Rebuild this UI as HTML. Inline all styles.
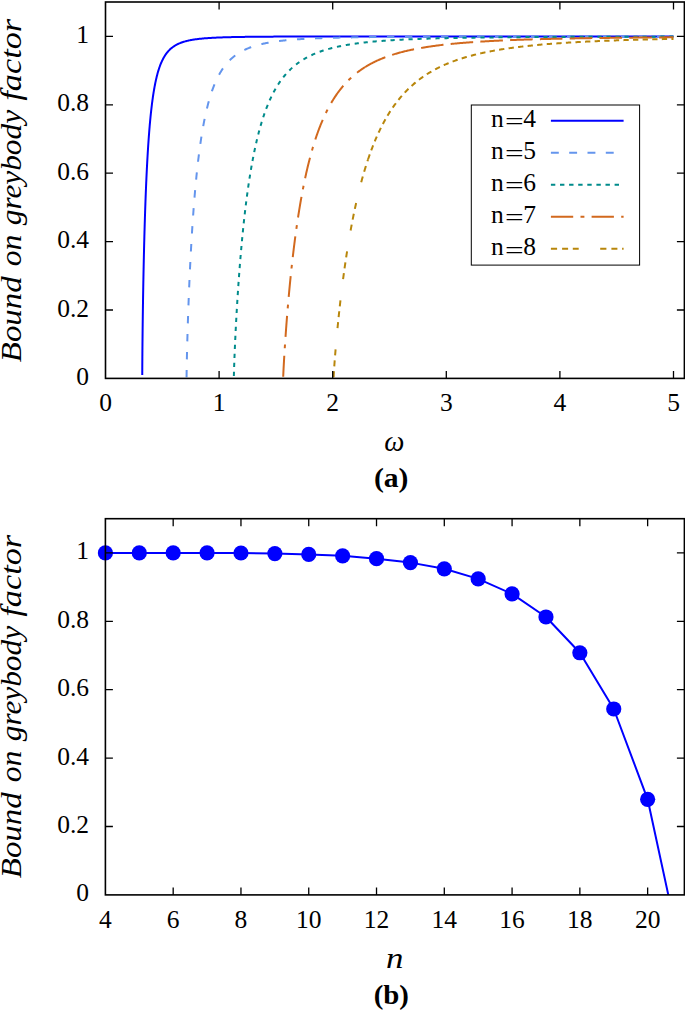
<!DOCTYPE html>
<html><head><meta charset="utf-8"><style>html,body{margin:0;padding:0;background:#fff;width:685px;height:1012px;overflow:hidden}svg{display:block}</style></head><body>
<svg width="685" height="1012" viewBox="0 0 685 1012">
<rect width="685" height="1012" fill="#fff"/>
<polyline points="142.25,375.07 142.25,374.19 142.26,373.42 142.26,372.60 142.26,371.73 142.27,370.81 142.27,370.09 142.28,369.35 142.28,368.57 142.28,367.77 142.29,366.95 142.29,366.10 142.30,365.23 142.30,364.33 142.31,363.41 142.32,362.46 142.32,361.50 142.33,360.51 142.34,359.49 142.34,358.46 142.35,357.76 142.35,357.05 142.36,356.33 142.37,355.60 142.37,354.86 142.38,354.11 142.38,353.35 142.39,352.58 142.40,351.81 142.40,351.02 142.41,350.23 142.42,349.43 142.43,348.62 142.43,347.80 142.44,346.97 142.45,346.14 142.46,345.30 142.46,344.44 142.47,343.58 142.48,342.72 142.49,341.84 142.50,340.96 142.51,340.07 142.52,339.17 142.53,338.27 142.54,337.36 142.55,336.44 142.56,335.51 142.57,334.58 142.58,333.63 142.59,332.69 142.60,331.73 142.61,330.77 142.62,329.80 142.63,328.83 142.64,327.85 142.66,326.86 142.67,325.87 142.68,324.87 142.69,323.86 142.71,322.85 142.72,321.83 142.73,320.81 142.75,319.78 142.76,318.75 142.77,317.71 142.79,316.66 142.80,315.61 142.82,314.56 142.83,313.50 142.85,312.43 142.86,311.36 142.88,310.28 142.89,309.20 142.91,308.12 142.93,307.03 142.94,305.93 142.96,304.83 142.98,303.73 142.99,302.62 143.01,301.51 143.03,300.40 143.05,299.28 143.06,298.15 143.08,297.03 143.10,295.90 143.12,294.76 143.14,293.63 143.16,292.49 143.18,291.34 143.20,290.19 143.22,289.04 143.24,287.89 143.26,286.73 143.28,285.58 143.30,284.41 143.32,283.25 143.34,282.08 143.36,280.91 143.39,279.74 143.41,278.57 143.43,277.39 143.45,276.22 143.48,275.04 143.50,273.85 143.52,272.67 143.55,271.49 143.57,270.30 143.60,269.11 143.62,267.92 143.65,266.73 143.67,265.54 143.70,264.34 143.72,263.15 143.75,261.95 143.78,260.76 143.80,259.56 143.83,258.36 143.86,257.16 143.88,255.97 143.91,254.77 143.94,253.57 143.97,252.37 144.00,251.17 144.03,249.97 144.05,248.77 144.08,247.57 144.11,246.37 144.14,245.17 144.17,243.97 144.20,242.77 144.24,241.57 144.27,240.37 144.30,239.18 144.33,237.98 144.36,236.78 144.39,235.59 144.43,234.40 144.46,233.20 144.49,232.01 144.53,230.82 144.56,229.63 144.59,228.44 144.63,227.26 144.66,226.07 144.70,224.89 144.73,223.71 144.77,222.53 144.81,221.35 144.84,220.17 144.88,219.00 144.91,217.83 144.95,216.66 144.99,215.49 145.03,214.32 145.07,213.16 145.10,212.00 145.14,210.84 145.18,209.69 145.22,208.53 145.26,207.38 145.30,206.23 145.34,205.09 145.38,203.94 145.42,202.80 145.46,201.67 145.50,200.53 145.55,199.40 145.59,198.27 145.63,197.15 145.67,196.03 145.72,194.91 145.76,193.79 145.80,192.68 145.85,191.57 145.89,190.47 145.94,189.37 145.98,188.27 146.03,187.18 146.07,186.09 146.12,185.00 146.17,183.92 146.21,182.84 146.26,181.76 146.31,180.69 146.36,179.62 146.40,178.56 146.45,177.50 146.50,176.44 146.55,175.39 146.60,174.35 146.65,173.30 146.70,172.26 146.75,171.23 146.80,170.20 146.85,169.17 146.90,168.15 146.96,167.13 147.01,166.12 147.06,165.11 147.11,164.11 147.17,163.11 147.22,162.11 147.27,161.12 147.33,160.14 147.38,159.16 147.44,158.18 147.49,157.21 147.55,156.24 147.60,155.28 147.66,154.32 147.72,153.37 147.77,152.42 147.83,151.48 147.89,150.54 147.95,149.60 148.01,148.68 148.06,147.75 148.12,146.83 148.18,145.92 148.24,145.01 148.30,144.11 148.36,143.21 148.43,142.31 148.49,141.42 148.55,140.54 148.61,139.66 148.67,138.79 148.74,137.92 148.80,137.05 148.86,136.19 148.93,135.34 148.99,134.49 149.06,133.65 149.12,132.81 149.19,131.97 149.25,131.14 149.32,130.32 149.38,129.50 149.45,128.69 149.52,127.88 149.59,127.08 149.65,126.28 149.72,125.49 149.79,124.70 149.86,123.92 149.93,123.14 150.00,122.36 150.07,121.60 150.14,120.83 150.21,120.08 150.28,119.32 150.36,118.58 150.43,117.84 150.50,117.10 150.57,116.37 150.65,115.64 150.72,114.92 150.80,114.20 150.87,113.49 150.94,112.78 151.02,112.08 151.10,111.38 151.21,110.35 151.33,109.32 151.44,108.31 151.56,107.30 151.68,106.31 151.80,105.33 151.91,104.36 152.04,103.40 152.16,102.45 152.28,101.52 152.40,100.59 152.53,99.68 152.65,98.77 152.78,97.88 152.90,96.99 153.03,96.12 153.16,95.26 153.29,94.40 153.42,93.56 153.55,92.73 153.68,91.91 153.82,91.09 153.95,90.29 154.09,89.50 154.22,88.72 154.36,87.95 154.50,87.18 154.64,86.43 154.78,85.69 154.92,84.95 155.06,84.23 155.20,83.51 155.35,82.81 155.49,82.11 155.64,81.42 155.83,80.52 156.03,79.63 156.23,78.76 156.43,77.91 156.63,77.07 156.83,76.24 157.04,75.43 157.25,74.63 157.46,73.85 157.67,73.09 157.88,72.33 158.10,71.59 158.31,70.87 158.53,70.16 158.75,69.46 158.97,68.77 159.19,68.10 159.48,67.28 159.76,66.48 160.05,65.70 160.34,64.93 160.63,64.19 160.93,63.46 161.22,62.75 161.53,62.06 161.83,61.38 162.14,60.72 162.45,60.08 162.76,59.45 163.14,58.72 163.52,58.01 163.91,57.33 164.30,56.66 164.70,56.01 165.10,55.39 165.50,54.78 165.91,54.19 166.32,53.62 166.81,52.98 167.30,52.36 167.80,51.76 168.31,51.18 168.82,50.63 169.34,50.10 169.86,49.58 170.39,49.09 170.92,48.61 171.46,48.15 172.01,47.71 172.64,47.22 173.28,46.76 173.93,46.31 174.59,45.89 175.25,45.48 175.93,45.09 176.61,44.72 177.30,44.36 178.00,44.02 178.70,43.69 179.42,43.38 180.14,43.08 180.87,42.80 181.61,42.52 182.36,42.26 183.11,42.01 183.78,41.80 184.46,41.60 185.14,41.40 185.83,41.22 186.52,41.04 187.22,40.86 187.93,40.70 188.64,40.54 189.37,40.39 190.09,40.24 190.83,40.10 191.57,39.96 192.32,39.83 193.07,39.70 193.83,39.58 194.60,39.46 195.38,39.35 196.16,39.24 196.95,39.14 197.75,39.04 198.55,38.94 199.36,38.85 200.06,38.77 200.76,38.70 201.47,38.63 202.19,38.56 202.91,38.49 203.63,38.43 204.36,38.36 205.10,38.30 205.84,38.24 206.59,38.19 207.34,38.13 208.09,38.08 208.86,38.03 209.62,37.98 210.40,37.93 211.17,37.88 211.96,37.84 212.74,37.79 213.54,37.75 214.34,37.71 215.14,37.67 215.95,37.63 216.77,37.59 217.59,37.56 218.41,37.52 219.24,37.49 220.08,37.46 220.78,37.43 221.49,37.41 222.20,37.38 222.91,37.36 223.62,37.33 224.35,37.31 225.07,37.29 225.80,37.26 226.53,37.24 227.26,37.22 228.00,37.20 228.75,37.18 229.49,37.16 230.25,37.14 231.00,37.13 231.76,37.11 232.52,37.09 233.29,37.08 234.06,37.06 234.83,37.04 235.61,37.03 236.39,37.01 237.18,37.00 237.97,36.98 238.76,36.97 239.56,36.96 240.36,36.94 241.17,36.93 241.98,36.92 242.79,36.90 243.61,36.89 244.43,36.88 245.26,36.87 246.09,36.86 246.92,36.85 247.76,36.84 248.60,36.83 249.44,36.82 250.29,36.81 251.15,36.80 252.00,36.79 252.87,36.78 253.73,36.77 254.60,36.76 255.48,36.75 256.18,36.75 256.88,36.74 257.59,36.73 258.30,36.73 259.01,36.72 259.73,36.72 260.44,36.71 261.16,36.70 261.89,36.70 262.61,36.69 263.34,36.69 264.07,36.68 264.81,36.68 265.54,36.67 266.28,36.67 267.02,36.66 267.77,36.66 268.51,36.65 269.26,36.65 270.01,36.64 270.77,36.64 271.53,36.64 272.29,36.63 273.05,36.63 273.81,36.62 274.58,36.62 275.35,36.61 276.13,36.61 276.90,36.61 277.68,36.60 278.46,36.60 279.25,36.60 280.03,36.59 280.82,36.59 281.62,36.59 282.41,36.58 283.21,36.58 284.01,36.58 284.81,36.57 285.62,36.57 286.43,36.57 287.24,36.56 288.05,36.56 288.87,36.56 289.69,36.56 290.51,36.55 291.34,36.55 292.16,36.55 292.99,36.55 293.83,36.54 294.66,36.54 295.50,36.54 296.34,36.54 297.19,36.53 298.04,36.53 298.89,36.53 299.74,36.53 300.59,36.52 301.45,36.52 302.31,36.52 303.18,36.52 304.04,36.52 304.91,36.51 305.79,36.51 306.66,36.51 307.54,36.51 308.42,36.51 309.30,36.50 310.19,36.50 311.08,36.50 311.97,36.50 312.86,36.50 313.76,36.50 314.66,36.49 315.57,36.49 316.47,36.49 317.38,36.49 318.29,36.49 319.21,36.49 320.12,36.49 321.04,36.48 321.97,36.48 322.89,36.48 323.82,36.48 324.75,36.48 325.45,36.48 326.16,36.48 326.86,36.48 327.57,36.48 328.27,36.47 328.98,36.47 329.69,36.47 330.40,36.47 331.12,36.47 331.83,36.47 332.55,36.47 333.27,36.47 333.99,36.47 334.71,36.47 335.43,36.47 336.16,36.46 336.88,36.46 337.61,36.46 338.34,36.46 339.07,36.46 339.81,36.46 340.54,36.46 341.28,36.46 342.02,36.46 342.75,36.46 343.50,36.46 344.24,36.46 344.98,36.46 345.73,36.46 346.48,36.45 347.23,36.45 347.98,36.45 348.73,36.45 349.49,36.45 350.24,36.45 351.00,36.45 351.76,36.45 352.52,36.45 353.28,36.45 354.05,36.45 354.81,36.45 355.58,36.45 356.35,36.45 357.12,36.45 357.89,36.45 358.67,36.45 359.44,36.44 360.22,36.44 361.00,36.44 361.78,36.44 362.56,36.44 363.35,36.44 364.13,36.44 364.92,36.44 365.71,36.44 366.50,36.44 367.30,36.44 368.09,36.44 368.89,36.44 369.68,36.44 370.48,36.44 371.28,36.44 372.09,36.44 372.89,36.44 373.70,36.44 374.51,36.44 375.31,36.44 376.13,36.44 376.94,36.43 377.75,36.43 378.57,36.43 379.39,36.43 380.21,36.43 381.03,36.43 381.85,36.43 382.68,36.43 383.50,36.43 384.33,36.43 385.16,36.43 385.99,36.43 386.83,36.43 387.66,36.43 388.50,36.43 389.34,36.43 390.18,36.43 391.02,36.43 391.86,36.43 392.71,36.43 393.55,36.43 394.40,36.43 395.25,36.43 396.11,36.43 396.96,36.43 397.82,36.43 398.67,36.43 399.53,36.43 400.39,36.43 401.26,36.42 402.12,36.42 402.99,36.42 403.85,36.42 404.72,36.42 405.59,36.42 406.47,36.42 407.34,36.42 408.22,36.42 409.10,36.42 409.98,36.42 410.86,36.42 411.74,36.42 412.63,36.42 413.51,36.42 414.40,36.42 415.29,36.42 416.18,36.42 417.08,36.42 417.97,36.42 418.87,36.42 419.77,36.42 420.67,36.42 421.57,36.42 422.48,36.42 423.38,36.42 424.29,36.42 425.20,36.42 426.11,36.42 427.02,36.42 427.94,36.42 428.86,36.42 429.77,36.42 430.69,36.42 431.62,36.42 432.54,36.42 433.46,36.42 434.39,36.42 435.32,36.42 436.25,36.42 437.18,36.42 438.12,36.42 439.05,36.42 439.99,36.42 440.93,36.42 441.87,36.42 442.82,36.42 443.76,36.41 444.71,36.41 445.66,36.41 446.61,36.41 447.56,36.41 448.51,36.41 449.47,36.41 450.43,36.41 451.38,36.41 452.35,36.41 453.31,36.41 454.27,36.41 455.24,36.41 456.21,36.41 457.18,36.41 458.15,36.41 459.12,36.41 460.10,36.41 461.07,36.41 462.05,36.41 463.03,36.41 464.02,36.41 465.00,36.41 465.99,36.41 466.98,36.41 467.96,36.41 468.96,36.41 469.95,36.41 470.94,36.41 471.94,36.41 472.94,36.41 473.94,36.41 474.94,36.41 475.95,36.41 476.95,36.41 477.96,36.41 478.97,36.41 479.98,36.41 481.00,36.41 482.01,36.41 483.03,36.41 484.05,36.41 485.07,36.41 486.09,36.41 487.11,36.41 488.14,36.41 489.17,36.41 490.20,36.41 491.23,36.41 492.26,36.41 493.30,36.41 494.34,36.41 495.37,36.41 496.42,36.41 497.46,36.41 498.50,36.41 499.55,36.41 500.60,36.41 501.65,36.41 502.35,36.41 503.05,36.41 503.75,36.41 504.46,36.41 505.16,36.41 505.86,36.41 506.57,36.41 507.28,36.41 507.99,36.41 508.69,36.41 509.40,36.41 510.11,36.41 510.82,36.41 511.54,36.41 512.25,36.41 512.96,36.41 513.68,36.41 514.39,36.41 515.11,36.41 515.82,36.41 516.54,36.41 517.26,36.41 517.98,36.41 518.70,36.41 519.42,36.41 520.14,36.41 520.86,36.41 521.59,36.41 522.31,36.41 523.03,36.41 523.76,36.41 524.49,36.41 525.21,36.41 525.94,36.41 526.67,36.41 527.40,36.41 528.13,36.41 528.86,36.41 529.60,36.41 530.33,36.41 531.06,36.41 531.80,36.41 532.53,36.41 533.27,36.41 534.01,36.41 534.75,36.41 535.48,36.41 536.22,36.41 536.97,36.41 537.71,36.41 538.45,36.41 539.19,36.41 539.94,36.41 540.68,36.41 541.43,36.41 542.17,36.41 542.92,36.41 543.67,36.41 544.42,36.41 545.17,36.41 545.92,36.41 546.67,36.41 547.42,36.41 548.18,36.41 548.93,36.41 549.69,36.41 550.44,36.41 551.20,36.41 551.96,36.41 552.71,36.41 553.47,36.41 554.23,36.41 554.99,36.41 555.76,36.41 556.52,36.41 557.28,36.41 558.05,36.40 558.81,36.40 559.58,36.40 560.34,36.40 561.11,36.40 561.88,36.40 562.65,36.40 563.42,36.40 564.19,36.40 564.96,36.40 565.73,36.40 566.51,36.40 567.28,36.40 568.06,36.40 568.83,36.40 569.61,36.40 570.39,36.40 571.17,36.40 571.95,36.40 572.73,36.40 573.51,36.40 574.29,36.40 575.07,36.40 575.86,36.40 576.64,36.40 577.43,36.40 578.21,36.40 579.00,36.40 579.79,36.40 580.58,36.40 581.36,36.40 582.16,36.40 582.95,36.40 583.74,36.40 584.53,36.40 585.33,36.40 586.12,36.40 586.92,36.40 587.71,36.40 588.51,36.40 589.31,36.40 590.11,36.40 590.91,36.40 591.71,36.40 592.51,36.40 593.31,36.40 594.12,36.40 594.92,36.40 595.72,36.40 596.53,36.40 597.34,36.40 598.14,36.40 598.95,36.40 599.76,36.40 600.57,36.40 601.38,36.40 602.20,36.40 603.01,36.40 603.82,36.40 604.64,36.40 605.45,36.40 606.27,36.40 607.09,36.40 607.90,36.40 608.72,36.40 609.54,36.40 610.36,36.40 611.18,36.40 612.01,36.40 612.83,36.40 613.65,36.40 614.48,36.40 615.30,36.40 616.13,36.40 616.96,36.40 617.79,36.40 618.62,36.40 619.45,36.40 620.28,36.40 621.11,36.40 621.94,36.40 622.77,36.40 623.61,36.40 624.44,36.40 625.28,36.40 626.12,36.40 626.96,36.40 627.79,36.40 628.63,36.40 629.47,36.40 630.32,36.40 631.16,36.40 632.00,36.40 632.84,36.40 633.69,36.40 634.54,36.40 635.38,36.40 636.23,36.40 637.08,36.40 637.93,36.40 638.78,36.40 639.63,36.40 640.48,36.40 641.33,36.40 642.19,36.40 643.04,36.40 643.90,36.40 644.75,36.40 645.61,36.40 646.47,36.40 647.33,36.40 648.19,36.40 649.05,36.40 649.91,36.40 650.77,36.40 651.63,36.40 652.50,36.40 653.36,36.40 654.23,36.40 655.09,36.40 655.96,36.40 656.83,36.40 657.70,36.40 658.57,36.40 659.44,36.40 660.31,36.40 661.19,36.40 662.06,36.40 662.94,36.40 663.81,36.40 664.69,36.40 665.56,36.40 666.44,36.40 667.32,36.40 668.20,36.40 669.08,36.40 669.96,36.40 670.85,36.40 671.73,36.40 672.61,36.40 673.50,36.40" fill="none" stroke="#0000ff" stroke-width="2.0" stroke-linejoin="round"/>
<polyline points="186.56,377.36 186.57,376.64 186.58,375.91 186.59,375.16 186.60,374.43 186.61,373.62 186.62,372.88 186.63,372.08 186.64,371.38 186.65,370.64 186.66,369.87 186.68,369.06 186.69,368.21 186.71,367.34 186.72,366.61 186.73,365.87 186.75,365.10 186.76,364.31 186.78,363.50 186.80,362.66 186.81,361.81 186.83,360.94 186.85,360.04 186.87,359.13 186.89,358.19 186.91,357.48 186.92,356.76 186.94,356.02 186.96,355.27 186.97,354.51 186.99,353.74 187.01,352.96 187.03,352.17 187.05,351.37 187.07,350.56 187.09,349.74 187.11,348.90 187.13,348.06 187.15,347.21 187.17,346.34 187.19,345.47 187.22,344.59 187.24,343.69 187.26,342.79 187.29,341.88 187.31,340.96 187.34,340.02 187.37,339.08 187.39,338.13 187.42,337.17 187.45,336.20 187.47,335.23 187.50,334.24 187.53,333.24 187.56,332.24 187.59,331.23 187.62,330.20 187.65,329.17 187.69,328.14 187.72,327.09 187.74,326.39 187.76,325.68 187.78,324.97 187.81,324.26 187.83,323.54 187.85,322.83 187.88,322.10 187.90,321.38 187.92,320.65 187.95,319.91 187.97,319.18 188.00,318.44 188.02,317.70 188.05,316.95 188.07,316.20 188.10,315.45 188.12,314.70 188.15,313.94 188.17,313.18 188.20,312.41 188.23,311.65 188.25,310.88 188.28,310.11 188.31,309.33 188.34,308.55 188.37,307.77 188.39,306.99 188.42,306.20 188.45,305.41 188.48,304.62 188.51,303.83 188.54,303.03 188.57,302.23 188.60,301.43 188.63,300.63 188.66,299.82 188.69,299.02 188.72,298.21 188.76,297.39 188.79,296.58 188.82,295.76 188.85,294.94 188.89,294.12 188.92,293.30 188.95,292.47 188.99,291.64 189.02,290.81 189.05,289.98 189.09,289.15 189.12,288.32 189.16,287.48 189.19,286.64 189.23,285.80 189.27,284.96 189.30,284.11 189.34,283.27 189.37,282.42 189.41,281.57 189.45,280.72 189.49,279.87 189.52,279.02 189.56,278.17 189.60,277.31 189.64,276.45 189.68,275.60 189.72,274.74 189.76,273.88 189.80,273.02 189.84,272.15 189.88,271.29 189.92,270.42 189.96,269.56 190.00,268.69 190.04,267.82 190.09,266.96 190.13,266.09 190.17,265.22 190.21,264.34 190.26,263.47 190.30,262.60 190.35,261.73 190.39,260.85 190.43,259.98 190.48,259.10 190.52,258.23 190.57,257.35 190.62,256.48 190.66,255.60 190.71,254.72 190.75,253.84 190.80,252.97 190.85,252.09 190.90,251.21 190.94,250.33 190.99,249.45 191.04,248.57 191.09,247.69 191.14,246.82 191.19,245.94 191.24,245.06 191.29,244.18 191.34,243.30 191.39,242.42 191.44,241.54 191.49,240.66 191.55,239.79 191.60,238.91 191.65,238.03 191.70,237.15 191.76,236.27 191.81,235.40 191.86,234.52 191.92,233.65 191.97,232.77 192.03,231.90 192.08,231.02 192.14,230.15 192.19,229.27 192.25,228.40 192.31,227.53 192.36,226.66 192.42,225.79 192.48,224.92 192.53,224.05 192.59,223.18 192.65,222.32 192.71,221.45 192.77,220.58 192.83,219.72 192.89,218.86 192.95,217.99 193.01,217.13 193.07,216.27 193.13,215.41 193.19,214.56 193.25,213.70 193.32,212.84 193.38,211.99 193.44,211.14 193.51,210.28 193.57,209.43 193.63,208.58 193.70,207.74 193.76,206.89 193.83,206.04 193.89,205.20 193.96,204.36 194.02,203.52 194.09,202.68 194.16,201.84 194.22,201.00 194.29,200.17 194.36,199.34 194.43,198.50 194.50,197.67 194.56,196.85 194.63,196.02 194.70,195.20 194.77,194.37 194.84,193.55 194.91,192.73 194.99,191.91 195.06,191.10 195.13,190.28 195.20,189.47 195.27,188.66 195.35,187.85 195.42,187.05 195.49,186.24 195.57,185.44 195.64,184.64 195.72,183.84 195.79,183.05 195.87,182.25 195.94,181.46 196.02,180.67 196.09,179.88 196.17,179.09 196.25,178.31 196.33,177.53 196.40,176.75 196.48,175.97 196.56,175.20 196.64,174.42 196.72,173.65 196.80,172.89 196.88,172.12 196.96,171.36 197.04,170.59 197.12,169.84 197.20,169.08 197.29,168.32 197.37,167.57 197.45,166.82 197.54,166.08 197.62,165.33 197.70,164.59 197.79,163.85 197.87,163.11 197.96,162.38 198.04,161.64 198.13,160.91 198.21,160.18 198.30,159.46 198.39,158.74 198.48,158.02 198.56,157.30 198.65,156.58 198.74,155.87 198.83,155.16 198.92,154.45 199.01,153.75 199.10,153.05 199.19,152.35 199.28,151.65 199.37,150.96 199.51,149.92 199.65,148.89 199.79,147.86 199.93,146.85 200.07,145.83 200.21,144.83 200.35,143.83 200.50,142.83 200.64,141.84 200.79,140.86 200.94,139.88 201.08,138.91 201.23,137.95 201.38,136.99 201.53,136.04 201.68,135.10 201.84,134.16 201.99,133.22 202.14,132.30 202.30,131.38 202.45,130.46 202.61,129.56 202.77,128.65 202.93,127.76 203.09,126.87 203.25,125.99 203.41,125.11 203.57,124.24 203.73,123.38 203.90,122.52 204.06,121.67 204.23,120.82 204.40,119.98 204.56,119.15 204.73,118.32 204.90,117.50 205.07,116.69 205.24,115.88 205.42,115.08 205.59,114.28 205.77,113.49 205.94,112.71 206.12,111.93 206.30,111.16 206.47,110.39 206.65,109.64 206.83,108.88 207.01,108.14 207.20,107.40 207.38,106.66 207.56,105.93 207.75,105.21 207.94,104.49 208.12,103.78 208.31,103.08 208.50,102.38 208.69,101.69 208.88,101.00 209.07,100.32 209.27,99.64 209.53,98.75 209.79,97.87 210.05,97.00 210.31,96.14 210.58,95.29 210.85,94.45 211.12,93.62 211.39,92.80 211.66,91.99 211.94,91.19 212.21,90.40 212.49,89.61 212.77,88.84 213.05,88.08 213.34,87.33 213.62,86.58 213.91,85.85 214.20,85.12 214.49,84.41 214.79,83.70 215.08,83.00 215.38,82.32 215.68,81.64 215.98,80.96 216.28,80.30 216.58,79.65 216.89,79.00 217.20,78.37 217.51,77.74 217.90,76.97 218.29,76.20 218.69,75.46 219.08,74.72 219.49,74.00 219.89,73.29 220.30,72.59 220.71,71.90 221.12,71.23 221.54,70.56 221.96,69.91 222.38,69.27 222.81,68.64 223.24,68.02 223.67,67.42 224.10,66.82 224.54,66.23 224.98,65.66 225.42,65.09 225.87,64.54 226.32,63.99 226.77,63.46 227.32,62.83 227.87,62.21 228.43,61.61 228.99,61.02 229.56,60.44 230.13,59.88 230.70,59.33 231.28,58.79 231.86,58.26 232.45,57.75 233.04,57.24 233.64,56.75 234.24,56.27 234.85,55.80 235.46,55.34 236.08,54.89 236.70,54.45 237.32,54.02 237.95,53.60 238.59,53.20 239.23,52.80 239.87,52.41 240.52,52.02 241.17,51.65 241.83,51.29 242.49,50.93 243.16,50.58 243.83,50.24 244.51,49.91 245.19,49.59 245.87,49.27 246.57,48.97 247.26,48.67 247.96,48.37 248.67,48.08 249.38,47.80 250.09,47.53 250.81,47.26 251.54,47.00 252.27,46.75 253.00,46.50 253.74,46.26 254.49,46.02 255.24,45.79 255.99,45.57 256.75,45.35 257.51,45.13 258.28,44.92 259.06,44.72 259.84,44.52 260.62,44.32 261.41,44.13 262.21,43.95 263.01,43.77 263.81,43.59 264.62,43.42 265.43,43.25 266.25,43.09 267.08,42.93 267.77,42.79 268.46,42.67 269.16,42.54 269.86,42.42 270.57,42.30 271.28,42.18 271.99,42.07 272.71,41.95 273.43,41.84 274.15,41.73 274.88,41.63 275.61,41.52 276.34,41.42 277.08,41.32 277.82,41.22 278.57,41.13 279.31,41.04 280.07,40.94 280.82,40.85 281.58,40.76 282.35,40.68 283.11,40.59 283.88,40.51 284.66,40.43 285.44,40.35 286.22,40.27 287.00,40.20 287.79,40.12 288.58,40.05 289.38,39.98 290.18,39.91 290.99,39.84 291.79,39.77 292.60,39.70 293.42,39.64 294.24,39.57 295.06,39.51 295.89,39.45 296.72,39.39 297.55,39.33 298.39,39.28 299.23,39.22 300.08,39.16 300.92,39.11 301.78,39.06 302.63,39.01 303.49,38.96 304.36,38.91 305.23,38.86 306.10,38.81 306.80,38.77 307.50,38.74 308.21,38.70 308.92,38.66 309.63,38.63 310.34,38.59 311.05,38.56 311.77,38.53 312.49,38.49 313.21,38.46 313.94,38.43 314.67,38.40 315.40,38.37 316.13,38.34 316.86,38.31 317.60,38.28 318.34,38.25 319.08,38.22 319.83,38.19 320.58,38.17 321.33,38.14 322.08,38.11 322.83,38.09 323.59,38.06 324.35,38.04 325.11,38.01 325.88,37.99 326.65,37.96 327.42,37.94 328.19,37.91 328.96,37.89 329.74,37.87 330.52,37.85 331.30,37.82 332.09,37.80 332.88,37.78 333.67,37.76 334.46,37.74 335.26,37.72 336.06,37.70 336.86,37.68 337.66,37.66 338.47,37.64 339.27,37.62 340.09,37.61 340.90,37.59 341.71,37.57 342.53,37.55 343.35,37.53 344.18,37.52 345.01,37.50 345.83,37.48 346.67,37.47 347.50,37.45 348.34,37.44 349.18,37.42 350.02,37.41 350.86,37.39 351.71,37.38 352.56,37.36 353.41,37.35 354.27,37.33 355.13,37.32 355.99,37.31 356.85,37.29 357.72,37.28 358.59,37.27 359.46,37.25 360.33,37.24 361.21,37.23 362.09,37.22 362.97,37.21 363.85,37.19 364.74,37.18 365.63,37.17 366.52,37.16 367.41,37.15 368.31,37.14 369.21,37.13 370.12,37.12 371.02,37.11 371.93,37.10 372.84,37.09 373.75,37.08 374.67,37.07 375.59,37.06 376.51,37.05 377.44,37.04 378.36,37.03 379.29,37.02 380.22,37.01 380.93,37.00 381.63,37.00 382.33,36.99 383.04,36.98 383.74,36.98 384.45,36.97 385.16,36.97 385.88,36.96 386.59,36.95 387.30,36.95 388.02,36.94 388.74,36.94 389.46,36.93 390.18,36.92 390.90,36.92 391.63,36.91 392.35,36.91 393.08,36.90 393.81,36.90 394.54,36.89 395.27,36.89 396.00,36.88 396.74,36.88 397.47,36.87 398.21,36.87 398.95,36.86 399.69,36.86 400.43,36.85 401.18,36.85 401.92,36.84 402.67,36.84 403.42,36.83 404.17,36.83 404.92,36.82 405.67,36.82 406.43,36.82 407.19,36.81 407.94,36.81 408.70,36.80 409.47,36.80 410.23,36.79 410.99,36.79 411.76,36.79 412.53,36.78 413.29,36.78 414.07,36.77 414.84,36.77 415.61,36.77 416.39,36.76 417.16,36.76 417.94,36.75 418.72,36.75 419.50,36.75 420.29,36.74 421.07,36.74 421.86,36.74 422.65,36.73 423.44,36.73 424.23,36.73 425.02,36.72 425.81,36.72 426.61,36.72 427.41,36.71 428.21,36.71 429.01,36.71 429.81,36.70 430.61,36.70 431.42,36.70 432.22,36.69 433.03,36.69 433.84,36.69 434.66,36.69 435.47,36.68 436.28,36.68 437.10,36.68 437.92,36.67 438.74,36.67 439.56,36.67 440.38,36.67 441.21,36.66 442.03,36.66 442.86,36.66 443.69,36.65 444.52,36.65 445.35,36.65 446.19,36.65 447.02,36.64 447.86,36.64 448.70,36.64 449.54,36.64 450.38,36.64 451.23,36.63 452.07,36.63 452.92,36.63 453.77,36.63 454.62,36.62 455.47,36.62 456.32,36.62 457.18,36.62 458.04,36.61 458.90,36.61 459.76,36.61 460.62,36.61 461.48,36.61 462.35,36.60 463.21,36.60 464.08,36.60 464.95,36.60 465.82,36.60 466.69,36.59 467.57,36.59 468.45,36.59 469.32,36.59 470.20,36.59 471.09,36.58 471.97,36.58 472.85,36.58 473.74,36.58 474.63,36.58 475.52,36.58 476.41,36.57 477.30,36.57 478.20,36.57 479.09,36.57 479.99,36.57 480.89,36.57 481.79,36.56 482.69,36.56 483.60,36.56 484.50,36.56 485.41,36.56 486.32,36.56 487.23,36.55 488.14,36.55 489.06,36.55 489.97,36.55 490.89,36.55 491.81,36.55 492.73,36.55 493.66,36.54 494.58,36.54 495.51,36.54 496.43,36.54 497.36,36.54 498.29,36.54 499.23,36.54 500.16,36.54 501.10,36.53 502.03,36.53 502.97,36.53 503.91,36.53 504.86,36.53 505.80,36.53 506.75,36.53 507.70,36.52 508.65,36.52 509.60,36.52 510.55,36.52 511.50,36.52 512.46,36.52 513.42,36.52 514.38,36.52 515.34,36.52 516.30,36.51 517.27,36.51 518.23,36.51 519.20,36.51 520.17,36.51 521.14,36.51 522.11,36.51 523.09,36.51 524.07,36.51 525.04,36.51 526.02,36.50 527.01,36.50 527.99,36.50 528.97,36.50 529.96,36.50 530.95,36.50 531.94,36.50 532.93,36.50 533.92,36.50 534.92,36.50 535.92,36.49 536.92,36.49 537.92,36.49 538.92,36.49 539.92,36.49 540.93,36.49 541.93,36.49 542.94,36.49 543.95,36.49 544.97,36.49 545.98,36.49 547.00,36.49 548.01,36.48 549.03,36.48 550.05,36.48 551.08,36.48 552.10,36.48 553.13,36.48 554.16,36.48 555.18,36.48 556.22,36.48 557.25,36.48 558.28,36.48 559.32,36.48 560.36,36.48 561.40,36.48 562.44,36.47 563.48,36.47 564.53,36.47 565.58,36.47 566.62,36.47 567.32,36.47 568.03,36.47 568.73,36.47 569.43,36.47 570.13,36.47 570.84,36.47 571.54,36.47 572.25,36.47 572.95,36.47 573.66,36.47 574.37,36.47 575.08,36.47 575.79,36.47 576.50,36.47 577.21,36.47 577.92,36.47 578.63,36.46 579.34,36.46 580.06,36.46 580.77,36.46 581.49,36.46 582.21,36.46 582.92,36.46 583.64,36.46 584.36,36.46 585.08,36.46 585.80,36.46 586.52,36.46 587.24,36.46 587.96,36.46 588.69,36.46 589.41,36.46 590.14,36.46 590.86,36.46 591.59,36.46 592.32,36.46 593.04,36.46 593.77,36.46 594.50,36.46 595.23,36.46 595.96,36.46 596.70,36.46 597.43,36.46 598.16,36.46 598.90,36.45 599.63,36.45 600.37,36.45 601.11,36.45 601.84,36.45 602.58,36.45 603.32,36.45 604.06,36.45 604.80,36.45 605.54,36.45 606.28,36.45 607.03,36.45 607.77,36.45 608.52,36.45 609.26,36.45 610.01,36.45 610.75,36.45 611.50,36.45 612.25,36.45 613.00,36.45 613.75,36.45 614.50,36.45 615.25,36.45 616.00,36.45 616.76,36.45 617.51,36.45 618.27,36.45 619.02,36.45 619.78,36.45 620.54,36.45 621.29,36.45 622.05,36.45 622.81,36.45 623.57,36.45 624.33,36.44 625.10,36.44 625.86,36.44 626.62,36.44 627.39,36.44 628.15,36.44 628.92,36.44 629.69,36.44 630.45,36.44 631.22,36.44 631.99,36.44 632.76,36.44 633.53,36.44 634.30,36.44 635.08,36.44 635.85,36.44 636.62,36.44 637.40,36.44 638.17,36.44 638.95,36.44 639.73,36.44 640.50,36.44 641.28,36.44 642.06,36.44 642.84,36.44 643.62,36.44 644.41,36.44 645.19,36.44 645.97,36.44 646.76,36.44 647.54,36.44 648.33,36.44 649.12,36.44 649.90,36.44 650.69,36.44 651.48,36.44 652.27,36.44 653.06,36.44 653.85,36.44 654.65,36.44 655.44,36.44 656.23,36.44 657.03,36.44 657.82,36.43 658.62,36.43 659.42,36.43 660.21,36.43 661.01,36.43 661.81,36.43 662.61,36.43 663.42,36.43 664.22,36.43 665.02,36.43 665.82,36.43 666.63,36.43 667.43,36.43 668.24,36.43 669.05,36.43 669.85,36.43 670.66,36.43 671.47,36.43 672.28,36.43 673.09,36.43 673.50,36.43" fill="none" stroke="#6495ed" stroke-width="2.0" stroke-dasharray="7.4 10.6" stroke-linejoin="round"/>
<polyline points="233.87,375.96 233.89,375.19 233.91,374.48 233.93,373.69 233.95,372.94 233.97,372.23 233.99,371.48 234.01,370.69 234.03,369.98 234.06,369.23 234.08,368.45 234.11,367.65 234.13,366.81 234.16,366.08 234.18,365.34 234.21,364.57 234.24,363.79 234.27,362.98 234.29,362.15 234.33,361.30 234.36,360.43 234.38,359.72 234.41,359.00 234.44,358.26 234.47,357.51 234.50,356.74 234.53,355.97 234.56,355.18 234.59,354.38 234.62,353.56 234.66,352.74 234.69,351.90 234.73,351.04 234.76,350.18 234.80,349.30 234.84,348.42 234.88,347.51 234.92,346.60 234.96,345.68 234.99,344.98 235.02,344.27 235.05,343.56 235.08,342.84 235.12,342.11 235.15,341.38 235.18,340.64 235.22,339.89 235.25,339.14 235.29,338.38 235.33,337.62 235.36,336.85 235.40,336.07 235.44,335.29 235.47,334.50 235.51,333.70 235.55,332.90 235.59,332.10 235.63,331.29 235.67,330.47 235.72,329.65 235.76,328.82 235.80,327.98 235.84,327.14 235.89,326.30 235.93,325.45 235.98,324.59 236.02,323.73 236.07,322.87 236.11,321.99 236.16,321.12 236.21,320.24 236.26,319.35 236.31,318.46 236.36,317.56 236.41,316.66 236.46,315.76 236.51,314.85 236.56,313.94 236.61,313.02 236.67,312.09 236.72,311.17 236.77,310.23 236.83,309.30 236.88,308.36 236.94,307.41 237.00,306.46 237.05,305.51 237.11,304.55 237.17,303.59 237.23,302.63 237.29,301.66 237.35,300.69 237.41,299.71 237.47,298.74 237.53,297.75 237.60,296.77 237.66,295.78 237.73,294.79 237.79,293.79 237.86,292.79 237.92,291.79 237.99,290.79 238.06,289.78 238.12,288.77 238.19,287.75 238.26,286.74 238.33,285.72 238.40,284.70 238.47,283.67 238.55,282.65 238.62,281.62 238.69,280.59 238.77,279.56 238.84,278.52 238.92,277.48 238.99,276.44 239.07,275.40 239.15,274.36 239.23,273.31 239.30,272.27 239.36,271.57 239.41,270.87 239.46,270.17 239.52,269.47 239.57,268.77 239.63,268.06 239.68,267.36 239.74,266.66 239.79,265.95 239.85,265.25 239.90,264.54 239.96,263.84 240.02,263.13 240.07,262.43 240.13,261.72 240.19,261.01 240.25,260.30 240.30,259.59 240.36,258.89 240.42,258.18 240.48,257.47 240.54,256.76 240.60,256.05 240.66,255.34 240.72,254.62 240.78,253.91 240.84,253.20 240.90,252.49 240.97,251.78 241.03,251.07 241.09,250.36 241.15,249.64 241.22,248.93 241.28,248.22 241.34,247.51 241.41,246.79 241.47,246.08 241.54,245.37 241.60,244.66 241.67,243.94 241.73,243.23 241.80,242.52 241.86,241.81 241.93,241.09 242.00,240.38 242.06,239.67 242.13,238.96 242.20,238.25 242.27,237.54 242.34,236.82 242.41,236.11 242.47,235.40 242.54,234.69 242.61,233.98 242.68,233.27 242.75,232.56 242.83,231.85 242.90,231.14 242.97,230.44 243.04,229.73 243.11,229.02 243.19,228.31 243.26,227.61 243.33,226.90 243.41,226.19 243.48,225.49 243.55,224.78 243.63,224.08 243.70,223.37 243.78,222.67 243.85,221.97 243.93,221.27 244.01,220.56 244.08,219.86 244.16,219.16 244.24,218.46 244.32,217.76 244.39,217.06 244.47,216.37 244.55,215.67 244.63,214.97 244.71,214.28 244.83,213.24 244.95,212.20 245.07,211.16 245.19,210.12 245.32,209.09 245.44,208.05 245.57,207.02 245.69,206.00 245.82,204.97 245.94,203.94 246.07,202.92 246.20,201.90 246.33,200.89 246.46,199.87 246.59,198.86 246.72,197.85 246.86,196.84 246.99,195.83 247.12,194.83 247.26,193.83 247.40,192.83 247.53,191.84 247.67,190.85 247.81,189.86 247.95,188.87 248.09,187.89 248.23,186.90 248.37,185.93 248.51,184.95 248.66,183.98 248.80,183.01 248.95,182.04 249.09,181.08 249.24,180.12 249.39,179.16 249.54,178.21 249.68,177.26 249.83,176.31 249.99,175.37 250.14,174.43 250.29,173.49 250.44,172.56 250.60,171.63 250.75,170.70 250.91,169.78 251.07,168.86 251.23,167.94 251.38,167.03 251.54,166.12 251.70,165.21 251.87,164.31 252.03,163.41 252.19,162.52 252.35,161.62 252.52,160.74 252.69,159.85 252.85,158.97 253.02,158.10 253.19,157.22 253.36,156.35 253.53,155.49 253.70,154.63 253.87,153.77 254.04,152.92 254.22,152.07 254.39,151.22 254.57,150.38 254.74,149.54 254.92,148.71 255.10,147.88 255.28,147.05 255.46,146.23 255.64,145.41 255.82,144.60 256.00,143.79 256.19,142.98 256.37,142.18 256.56,141.38 256.74,140.59 256.93,139.80 257.12,139.01 257.31,138.23 257.50,137.45 257.69,136.68 257.88,135.91 258.07,135.14 258.27,134.38 258.46,133.62 258.66,132.87 258.85,132.12 259.05,131.37 259.25,130.63 259.45,129.90 259.65,129.16 259.85,128.44 260.05,127.71 260.26,126.99 260.46,126.27 260.67,125.56 260.87,124.85 261.08,124.15 261.29,123.45 261.49,122.76 261.70,122.06 261.91,121.38 262.13,120.69 262.34,120.01 262.55,119.34 262.77,118.67 262.98,118.00 263.27,117.12 263.56,116.24 263.85,115.38 264.15,114.51 264.44,113.66 264.74,112.81 265.04,111.98 265.34,111.14 265.64,110.32 265.95,109.50 266.25,108.69 266.56,107.89 266.87,107.09 267.18,106.30 267.49,105.52 267.81,104.74 268.12,103.97 268.44,103.21 268.76,102.46 269.08,101.71 269.41,100.97 269.73,100.24 270.06,99.51 270.39,98.79 270.72,98.08 271.05,97.37 271.38,96.67 271.72,95.98 272.06,95.29 272.40,94.61 272.74,93.94 273.08,93.27 273.43,92.61 273.77,91.95 274.12,91.31 274.47,90.67 274.83,90.03 275.18,89.40 275.54,88.78 275.89,88.16 276.25,87.55 276.61,86.95 277.07,86.21 277.53,85.47 277.99,84.74 278.45,84.02 278.91,83.32 279.38,82.62 279.85,81.93 280.33,81.25 280.81,80.57 281.29,79.91 281.77,79.26 282.26,78.61 282.75,77.97 283.24,77.35 283.73,76.73 284.23,76.11 284.73,75.51 285.24,74.92 285.74,74.33 286.25,73.75 286.77,73.18 287.28,72.62 287.80,72.06 288.32,71.51 288.85,70.97 289.38,70.44 289.91,69.92 290.44,69.40 290.98,68.89 291.52,68.39 292.06,67.89 292.61,67.40 293.16,66.92 293.71,66.45 294.27,65.98 294.83,65.52 295.39,65.06 295.95,64.62 296.52,64.18 297.09,63.74 297.67,63.31 298.24,62.89 298.83,62.47 299.41,62.06 300.00,61.66 300.59,61.26 301.18,60.87 301.77,60.49 302.37,60.11 302.98,59.73 303.58,59.36 304.19,59.00 304.80,58.64 305.42,58.29 306.04,57.94 306.66,57.60 307.28,57.26 307.91,56.93 308.54,56.60 309.18,56.28 309.81,55.97 310.45,55.65 311.10,55.35 311.75,55.05 312.40,54.75 313.05,54.46 313.71,54.17 314.37,53.88 315.03,53.60 315.70,53.33 316.37,53.06 317.04,52.79 317.72,52.53 318.40,52.27 319.08,52.01 319.77,51.76 320.46,51.52 321.15,51.28 321.85,51.04 322.55,50.80 323.25,50.57 323.96,50.34 324.67,50.12 325.38,49.90 326.10,49.68 326.81,49.47 327.54,49.26 328.26,49.05 328.99,48.85 329.73,48.65 330.46,48.45 331.20,48.26 331.95,48.06 332.69,47.88 333.45,47.69 334.20,47.51 334.96,47.33 335.72,47.15 336.48,46.98 337.25,46.81 338.02,46.64 338.79,46.48 339.57,46.32 340.35,46.16 341.14,46.00 341.92,45.84 342.72,45.69 343.51,45.54 344.31,45.40 345.11,45.25 345.92,45.11 346.72,44.97 347.54,44.83 348.35,44.69 349.17,44.56 349.99,44.43 350.82,44.30 351.65,44.17 352.48,44.05 353.32,43.93 354.16,43.80 355.01,43.69 355.85,43.57 356.70,43.45 357.56,43.34 358.42,43.23 359.28,43.12 360.14,43.01 361.01,42.91 361.71,42.82 362.41,42.74 363.11,42.66 363.82,42.58 364.52,42.50 365.23,42.42 365.95,42.34 366.66,42.27 367.37,42.19 368.09,42.12 368.81,42.04 369.54,41.97 370.26,41.90 370.99,41.83 371.72,41.76 372.45,41.69 373.19,41.62 373.92,41.56 374.66,41.49 375.40,41.43 376.15,41.36 376.90,41.30 377.64,41.24 378.39,41.17 379.15,41.11 379.90,41.05 380.66,40.99 381.42,40.94 382.19,40.88 382.95,40.82 383.72,40.76 384.49,40.71 385.26,40.65 386.03,40.60 386.81,40.55 387.59,40.49 388.37,40.44 389.16,40.39 389.94,40.34 390.73,40.29 391.52,40.24 392.32,40.19 393.11,40.14 393.91,40.10 394.71,40.05 395.52,40.00 396.32,39.96 397.13,39.91 397.94,39.87 398.75,39.83 399.57,39.78 400.39,39.74 401.21,39.70 402.03,39.66 402.85,39.62 403.68,39.57 404.51,39.54 405.34,39.50 406.18,39.46 407.01,39.42 407.85,39.38 408.69,39.34 409.54,39.31 410.39,39.27 411.24,39.23 412.09,39.20 412.94,39.16 413.80,39.13 414.66,39.09 415.52,39.06 416.38,39.03 417.25,39.00 418.12,38.96 418.99,38.93 419.86,38.90 420.74,38.87 421.62,38.84 422.50,38.81 423.38,38.78 424.27,38.75 425.16,38.72 426.05,38.69 426.94,38.66 427.84,38.63 428.74,38.61 429.64,38.58 430.54,38.55 431.45,38.53 432.36,38.50 433.27,38.47 434.18,38.45 435.10,38.42 436.02,38.40 436.94,38.37 437.86,38.35 438.79,38.32 439.72,38.30 440.65,38.28 441.35,38.26 442.05,38.24 442.75,38.23 443.46,38.21 444.16,38.19 444.87,38.18 445.58,38.16 446.29,38.14 447.00,38.13 447.71,38.11 448.43,38.10 449.14,38.08 449.86,38.07 450.58,38.05 451.30,38.04 452.02,38.02 452.74,38.01 453.47,37.99 454.19,37.98 454.92,37.96 455.65,37.95 456.38,37.93 457.11,37.92 457.84,37.91 458.58,37.89 459.31,37.88 460.05,37.86 460.79,37.85 461.53,37.84 462.27,37.83 463.01,37.81 463.76,37.80 464.50,37.79 465.25,37.77 466.00,37.76 466.75,37.75 467.50,37.74 468.26,37.73 469.01,37.71 469.77,37.70 470.52,37.69 471.28,37.68 472.04,37.67 472.81,37.66 473.57,37.64 474.33,37.63 475.10,37.62 475.87,37.61 476.64,37.60 477.41,37.59 478.18,37.58 478.95,37.57 479.73,37.56 480.51,37.55 481.28,37.54 482.06,37.53 482.84,37.52 483.63,37.51 484.41,37.50 485.20,37.49 485.98,37.48 486.77,37.47 487.56,37.46 488.35,37.45 489.15,37.44 489.94,37.43 490.74,37.42 491.53,37.41 492.33,37.40 493.13,37.39 493.93,37.38 494.74,37.38 495.54,37.37 496.35,37.36 497.16,37.35 497.96,37.34 498.77,37.33 499.59,37.33 500.40,37.32 501.22,37.31 502.03,37.30 502.85,37.29 503.67,37.29 504.49,37.28 505.31,37.27 506.14,37.26 506.96,37.25 507.79,37.25 508.62,37.24 509.45,37.23 510.28,37.22 511.11,37.22 511.95,37.21 512.78,37.20 513.62,37.20 514.46,37.19 515.30,37.18 516.14,37.18 516.99,37.17 517.83,37.16 518.68,37.16 519.53,37.15 520.38,37.14 521.23,37.14 522.08,37.13 522.94,37.12 523.79,37.12 524.65,37.11 525.51,37.10 526.37,37.10 527.23,37.09 528.09,37.09 528.96,37.08 529.82,37.07 530.69,37.07 531.56,37.06 532.43,37.06 533.31,37.05 534.18,37.05 535.06,37.04 535.93,37.03 536.81,37.03 537.69,37.02 538.57,37.02 539.46,37.01 540.34,37.01 541.23,37.00 542.12,37.00 543.00,36.99 543.90,36.99 544.79,36.98 545.68,36.98 546.58,36.97 547.47,36.97 548.37,36.96 549.27,36.96 550.17,36.95 551.08,36.95 551.98,36.94 552.89,36.94 553.80,36.93 554.71,36.93 555.62,36.93 556.53,36.92 557.44,36.92 558.36,36.91 559.28,36.91 560.20,36.90 561.12,36.90 562.04,36.89 562.96,36.89 563.89,36.89 564.81,36.88 565.74,36.88 566.67,36.87 567.60,36.87 568.53,36.87 569.47,36.86 570.40,36.86 571.34,36.85 572.28,36.85 573.22,36.85 574.16,36.84 575.11,36.84 576.05,36.84 577.00,36.83 577.95,36.83 578.90,36.82 579.85,36.82 580.80,36.82 581.76,36.81 582.71,36.81 583.67,36.81 584.63,36.80 585.59,36.80 586.55,36.80 587.52,36.79 588.48,36.79 589.45,36.79 590.42,36.78 591.39,36.78 592.36,36.78 593.34,36.77 594.31,36.77 595.29,36.77 596.27,36.77 597.25,36.76 598.23,36.76 599.21,36.76 600.20,36.75 601.18,36.75 602.17,36.75 603.16,36.74 604.15,36.74 605.15,36.74 606.14,36.74 607.14,36.73 608.13,36.73 609.13,36.73 610.13,36.73 611.14,36.72 612.14,36.72 613.14,36.72 614.15,36.72 615.16,36.71 616.17,36.71 617.18,36.71 618.20,36.70 619.21,36.70 620.23,36.70 621.25,36.70 622.27,36.70 623.29,36.69 624.31,36.69 625.34,36.69 626.36,36.69 627.39,36.68 628.42,36.68 629.45,36.68 630.48,36.68 631.52,36.67 632.56,36.67 633.59,36.67 634.63,36.67 635.67,36.67 636.72,36.66 637.76,36.66 638.81,36.66 639.85,36.66 640.90,36.65 641.60,36.65 642.30,36.65 643.01,36.65 643.71,36.65 644.41,36.65 645.11,36.65 645.82,36.65 646.52,36.64 647.23,36.64 647.94,36.64 648.65,36.64 649.35,36.64 650.06,36.64 650.77,36.64 651.48,36.64 652.19,36.63 652.91,36.63 653.62,36.63 654.33,36.63 655.05,36.63 655.76,36.63 656.48,36.63 657.19,36.63 657.91,36.62 658.63,36.62 659.34,36.62 660.06,36.62 660.78,36.62 661.50,36.62 662.23,36.62 662.95,36.62 663.67,36.61 664.39,36.61 665.12,36.61 665.84,36.61 666.57,36.61 667.30,36.61 668.02,36.61 668.75,36.61 669.48,36.61 670.21,36.60 670.94,36.60 671.67,36.60 672.40,36.60 673.13,36.60 673.50,36.60" fill="none" stroke="#008b8b" stroke-width="2.0" stroke-dasharray="4.2 4.8" stroke-linejoin="round"/>
<polyline points="283.20,376.77 283.23,376.04 283.26,375.33 283.29,374.60 283.33,373.85 283.36,373.10 283.39,372.38 283.43,371.61 283.46,370.88 283.50,370.11 283.54,369.41 283.57,368.68 283.61,367.91 283.65,367.12 283.69,366.42 283.73,365.69 283.77,364.94 283.81,364.17 283.86,363.38 283.90,362.57 283.95,361.73 283.99,361.02 284.03,360.29 284.07,359.54 284.11,358.79 284.16,358.01 284.21,357.22 284.25,356.42 284.30,355.60 284.35,354.77 284.40,353.92 284.46,353.06 284.50,352.36 284.54,351.65 284.59,350.93 284.63,350.20 284.68,349.47 284.73,348.72 284.78,347.97 284.82,347.20 284.87,346.43 284.93,345.65 284.98,344.86 285.03,344.06 285.08,343.25 285.14,342.44 285.19,341.61 285.25,340.78 285.31,339.94 285.36,339.09 285.42,338.23 285.48,337.37 285.54,336.49 285.61,335.61 285.67,334.72 285.73,333.82 285.80,332.92 285.86,332.00 285.93,331.08 286.00,330.15 286.05,329.45 286.10,328.74 286.15,328.03 286.20,327.32 286.26,326.60 286.31,325.88 286.37,325.15 286.42,324.42 286.48,323.69 286.53,322.95 286.59,322.21 286.65,321.46 286.71,320.71 286.76,319.96 286.82,319.20 286.88,318.44 286.94,317.68 287.00,316.91 287.07,316.14 287.13,315.36 287.19,314.58 287.25,313.80 287.32,313.02 287.38,312.23 287.45,311.44 287.51,310.64 287.58,309.84 287.65,309.04 287.71,308.23 287.78,307.43 287.85,306.61 287.92,305.80 287.99,304.98 288.06,304.16 288.13,303.34 288.20,302.51 288.27,301.68 288.35,300.85 288.42,300.02 288.49,299.18 288.57,298.34 288.64,297.50 288.72,296.65 288.80,295.81 288.87,294.96 288.95,294.10 289.03,293.25 289.11,292.39 289.19,291.53 289.27,290.67 289.35,289.81 289.43,288.94 289.51,288.07 289.60,287.20 289.68,286.33 289.76,285.45 289.85,284.58 289.93,283.70 290.02,282.82 290.11,281.94 290.20,281.05 290.28,280.17 290.37,279.28 290.46,278.39 290.55,277.50 290.64,276.61 290.73,275.72 290.83,274.82 290.92,273.93 291.01,273.03 291.11,272.13 291.20,271.23 291.30,270.33 291.39,269.43 291.49,268.52 291.59,267.62 291.68,266.71 291.78,265.81 291.88,264.90 291.98,263.99 292.08,263.08 292.19,262.17 292.29,261.26 292.39,260.35 292.49,259.44 292.60,258.52 292.70,257.61 292.81,256.70 292.92,255.78 293.02,254.87 293.13,253.95 293.24,253.04 293.35,252.12 293.46,251.20 293.57,250.29 293.68,249.37 293.79,248.45 293.91,247.54 294.02,246.62 294.13,245.70 294.25,244.78 294.36,243.87 294.48,242.95 294.60,242.03 294.72,241.11 294.83,240.20 294.95,239.28 295.07,238.37 295.19,237.45 295.32,236.53 295.44,235.62 295.56,234.71 295.68,233.79 295.81,232.88 295.93,231.97 296.06,231.05 296.19,230.14 296.31,229.23 296.44,228.32 296.57,227.41 296.70,226.50 296.83,225.59 296.96,224.69 297.09,223.78 297.23,222.88 297.36,221.97 297.49,221.07 297.63,220.17 297.76,219.27 297.90,218.37 298.04,217.47 298.18,216.57 298.31,215.67 298.45,214.78 298.59,213.89 298.74,212.99 298.88,212.10 299.02,211.21 299.16,210.32 299.31,209.44 299.45,208.55 299.60,207.67 299.74,206.79 299.89,205.91 300.04,205.03 300.19,204.15 300.34,203.27 300.49,202.40 300.64,201.53 300.79,200.66 300.94,199.79 301.10,198.92 301.25,198.06 301.41,197.20 301.56,196.33 301.72,195.47 301.88,194.62 302.03,193.76 302.19,192.91 302.35,192.06 302.51,191.21 302.68,190.36 302.84,189.52 303.00,188.67 303.16,187.83 303.33,186.99 303.49,186.16 303.66,185.32 303.83,184.49 304.00,183.66 304.16,182.83 304.33,182.01 304.50,181.19 304.68,180.37 304.85,179.55 305.02,178.73 305.19,177.92 305.37,177.11 305.54,176.30 305.72,175.50 305.90,174.69 306.07,173.89 306.25,173.09 306.43,172.30 306.61,171.50 306.79,170.71 306.98,169.93 307.16,169.14 307.34,168.36 307.53,167.58 307.71,166.80 307.90,166.03 308.08,165.25 308.27,164.48 308.46,163.72 308.65,162.95 308.84,162.19 309.03,161.43 309.22,160.68 309.42,159.93 309.61,159.18 309.81,158.43 310.00,157.68 310.20,156.94 310.39,156.20 310.59,155.47 310.79,154.73 310.99,154.00 311.19,153.28 311.39,152.55 311.60,151.83 311.80,151.11 312.00,150.40 312.21,149.68 312.41,148.97 312.62,148.27 312.83,147.56 313.04,146.86 313.25,146.16 313.46,145.47 313.67,144.78 313.88,144.09 314.09,143.40 314.31,142.72 314.52,142.04 314.74,141.36 314.95,140.69 315.17,140.02 315.39,139.35 315.61,138.68 315.90,137.80 316.20,136.92 316.49,136.05 316.79,135.19 317.09,134.33 317.39,133.47 317.70,132.62 318.00,131.78 318.31,130.94 318.61,130.10 318.92,129.27 319.23,128.45 319.55,127.63 319.86,126.82 320.18,126.02 320.50,125.21 320.81,124.42 321.14,123.63 321.46,122.84 321.78,122.06 322.11,121.29 322.44,120.52 322.76,119.76 323.09,119.00 323.43,118.25 323.76,117.50 324.10,116.76 324.43,116.02 324.77,115.29 325.11,114.56 325.46,113.84 325.80,113.12 326.15,112.41 326.49,111.71 326.84,111.01 327.19,110.31 327.54,109.63 327.90,108.94 328.25,108.26 328.61,107.59 328.97,106.92 329.33,106.26 329.69,105.60 330.06,104.94 330.42,104.30 330.79,103.65 331.16,103.01 331.53,102.38 331.91,101.75 332.28,101.13 332.66,100.51 333.03,99.90 333.41,99.29 333.80,98.69 334.18,98.09 334.56,97.49 334.95,96.90 335.34,96.32 335.83,95.60 336.32,94.88 336.81,94.17 337.31,93.47 337.80,92.78 338.31,92.09 338.81,91.41 339.32,90.74 339.83,90.08 340.34,89.42 340.86,88.77 341.37,88.12 341.89,87.49 342.42,86.86 342.94,86.23 343.47,85.62 344.01,85.01 344.54,84.41 345.08,83.81 345.62,83.22 346.16,82.64 346.71,82.06 347.26,81.49 347.81,80.93 348.36,80.37 348.92,79.82 349.48,79.27 350.04,78.73 350.61,78.20 351.18,77.68 351.75,77.16 352.33,76.64 352.90,76.13 353.48,75.63 354.07,75.13 354.65,74.64 355.24,74.16 355.83,73.68 356.43,73.20 357.03,72.74 357.63,72.27 358.23,71.82 358.84,71.36 359.45,70.92 360.06,70.48 360.68,70.04 361.29,69.61 361.92,69.18 362.54,68.76 363.17,68.35 363.80,67.94 364.43,67.53 365.07,67.13" fill="none" stroke="#d2691e" stroke-width="2.0" stroke-dasharray="21 7.6 3.7 7.7" stroke-linejoin="round"/>
<polyline points="365.07,67.13 365.71,66.74 366.35,66.35 366.99,65.96 367.64,65.58 368.29,65.20 368.95,64.83 369.60,64.46 370.26,64.10 370.93,63.74 371.59,63.39 372.26,63.04 372.93,62.69 373.61,62.35 374.29,62.01 374.97,61.68 375.65,61.35 376.34,61.03 377.03,60.71 377.72,60.39 378.42,60.08 379.12,59.77 379.82,59.47 380.53,59.17 381.24,58.87 381.95,58.58 382.66,58.29 383.38,58.00 384.10,57.72 384.83,57.44 385.55,57.17 386.28,56.90 387.02,56.63 387.76,56.36 388.50,56.10 389.24,55.85 389.98,55.59 390.73,55.34 391.49,55.09 392.24,54.85 393.00,54.61 393.76,54.37 394.53,54.13 395.30,53.90 396.07,53.67 396.84,53.44 397.62,53.22 398.40,53.00 399.18,52.78 399.97,52.57 400.76,52.36 401.56,52.15 402.35,51.94 403.15,51.74 403.96,51.54 404.76,51.34 405.57,51.14 406.39,50.95 407.20,50.76 408.02,50.57 408.84,50.38 409.67,50.20 410.50,50.02 411.33,49.84 412.17,49.67 413.01,49.49 413.85,49.32 414.69,49.15 415.54,48.98 416.40,48.82 417.25,48.66 418.11,48.50 418.80,48.37 419.49,48.24 420.18,48.12 420.88,48.00 421.58,47.87 422.28,47.75 422.98,47.64 423.68,47.52 424.39,47.40 425.10,47.29 425.81,47.17 426.52,47.06 427.23,46.95 427.95,46.84 428.67,46.73 429.39,46.62 430.12,46.51 430.84,46.41 431.57,46.30 432.30,46.20 433.03,46.10 433.76,45.99 434.50,45.89 435.24,45.80 435.98,45.70 436.72,45.60 437.47,45.50 438.21,45.41 438.96,45.32 439.71,45.22 440.47,45.13 441.22,45.04 441.98,44.95 442.74,44.86 443.50,44.77 444.27,44.68 445.03,44.60 445.80,44.51 446.57,44.43 447.35,44.35 448.12,44.26 448.90,44.18 449.68,44.10 450.46,44.02 451.24,43.94 452.03,43.86 452.82,43.79 453.61,43.71 454.40,43.63 455.20,43.56 455.99,43.48 456.79,43.41 457.60,43.34 458.40,43.27 459.21,43.19 460.01,43.12 460.82,43.05 461.64,42.99 462.45,42.92 463.27,42.85 464.09,42.78 464.91,42.72 465.73,42.65 466.56,42.59 467.39,42.52 468.22,42.46 469.05,42.40 469.89,42.34 470.73,42.28 471.56,42.22 472.41,42.16 473.25,42.10 474.10,42.04 474.95,41.98 475.80,41.92 476.65,41.87 477.51,41.81 478.36,41.75 479.22,41.70 480.09,41.65 480.95,41.59 481.82,41.54 482.69,41.49 483.56,41.43 484.43,41.38 485.31,41.33 486.18,41.28 487.07,41.23 487.95,41.18 488.83,41.13 489.72,41.09 490.61,41.04 491.50,40.99 492.40,40.94 493.29,40.90 494.19,40.85 495.09,40.81 496.00,40.76 496.90,40.72 497.81,40.67 498.72,40.63 499.63,40.59 500.55,40.55 501.47,40.50 502.38,40.46 503.31,40.42 504.23,40.38 505.16,40.34 506.09,40.30 507.02,40.26 507.72,40.23 508.42,40.20 509.12,40.17 509.83,40.14 510.53,40.12 511.24,40.09 511.95,40.06 512.65,40.03 513.36,40.01 514.08,39.98 514.79,39.95 515.50,39.92 516.22,39.90 516.94,39.87 517.66,39.85 518.38,39.82 519.10,39.79 519.82,39.77 520.54,39.74 521.27,39.72 521.99,39.69 522.72,39.67 523.45,39.64 524.18,39.62 524.91,39.60 525.65,39.57 526.38,39.55 527.12,39.52 527.85,39.50 528.59,39.48 529.33,39.45 530.07,39.43 530.81,39.41 531.56,39.39 532.30,39.36 533.05,39.34 533.80,39.32 534.55,39.30 535.30,39.28 536.05,39.26 536.80,39.23 537.55,39.21 538.31,39.19 539.07,39.17 539.83,39.15 540.59,39.13 541.35,39.11 542.11,39.09 542.87,39.07 543.64,39.05 544.40,39.03 545.17,39.01 545.94,38.99 546.71,38.97 547.48,38.95 548.26,38.93 549.03,38.92 549.81,38.90 550.59,38.88 551.36,38.86 552.14,38.84 552.93,38.82 553.71,38.81 554.49,38.79 555.28,38.77 556.07,38.75 556.85,38.74 557.64,38.72 558.43,38.70 559.23,38.69 560.02,38.67 560.82,38.65 561.61,38.64 562.41,38.62 563.21,38.60 564.01,38.59 564.81,38.57 565.61,38.55 566.42,38.54 567.23,38.52 568.03,38.51 568.84,38.49 569.65,38.48 570.46,38.46 571.28,38.45 572.09,38.43 572.91,38.42 573.72,38.40 574.54,38.39 575.36,38.37 576.18,38.36 577.01,38.34 577.83,38.33 578.65,38.32 579.48,38.30 580.31,38.29 581.14,38.28 581.97,38.26 582.80,38.25 583.64,38.23 584.47,38.22 585.31,38.21 586.15,38.20 586.98,38.18 587.82,38.17 588.67,38.16 589.51,38.14 590.36,38.13 591.20,38.12 592.05,38.11 592.90,38.09 593.75,38.08 594.60,38.07 595.45,38.06 596.31,38.05 597.16,38.03 598.02,38.02 598.88,38.01 599.74,38.00 600.60,37.99 601.47,37.98 602.33,37.97 603.20,37.95 604.06,37.94 604.93,37.93 605.80,37.92 606.67,37.91 607.55,37.90 608.42,37.89 609.30,37.88 610.17,37.87 611.05,37.86 611.93,37.85 612.81,37.84 613.70,37.83 614.58,37.82 615.47,37.81 616.35,37.80 617.24,37.79 618.13,37.78 619.02,37.77 619.92,37.76 620.81,37.75 621.70,37.74 622.60,37.73 623.50,37.72 624.40,37.71 625.30,37.70 626.20,37.69 627.11,37.68 628.01,37.67 628.92,37.66 629.83,37.66 630.74,37.65 631.65,37.64 632.56,37.63 633.48,37.62 634.39,37.61 635.31,37.60 636.23,37.59 637.15,37.59 638.07,37.58 638.99,37.57 639.92,37.56 640.84,37.55 641.77,37.55 642.70,37.54 643.63,37.53 644.56,37.52 645.49,37.51 646.43,37.51 647.36,37.50 648.30,37.49 649.24,37.48 650.18,37.48 651.12,37.47 652.06,37.46 653.01,37.45 653.95,37.45 654.90,37.44 655.85,37.43 656.80,37.42 657.75,37.42 658.70,37.41 659.66,37.40 660.61,37.40 661.57,37.39 662.53,37.38 663.49,37.38 664.45,37.37 665.42,37.36 666.38,37.36 667.35,37.35 668.31,37.34 669.28,37.34 670.25,37.33 671.23,37.32 672.20,37.32 673.17,37.31 673.50,37.31" fill="none" stroke="#d2691e" stroke-width="2.0" stroke-dasharray="22.6 7.2" stroke-linejoin="round"/>
<polyline points="333.59,377.30 333.63,376.58 333.67,375.85 333.71,375.14 333.75,374.39 333.80,373.68 333.84,372.98 333.89,372.22 333.93,371.49 333.98,370.71 334.03,369.97 334.08,369.20 334.13,368.48 334.18,367.74 334.24,366.96 334.29,366.26 334.34,365.54 334.39,364.79 334.44,364.03 334.50,363.24 334.56,362.43 334.61,361.72 334.67,360.99 334.72,360.25 334.78,359.49 334.84,358.72 334.90,357.93 334.96,357.13 335.03,356.31 335.10,355.47 335.15,354.76 335.21,354.04 335.27,353.31 335.33,352.57 335.39,351.82 335.45,351.06 335.52,350.29 335.58,349.51 335.65,348.72 335.71,347.92 335.78,347.10 335.85,346.28 335.93,345.45 336.00,344.61 336.07,343.76 336.15,342.89 336.22,342.02 336.29,341.32 336.35,340.61 336.41,339.89 336.48,339.17 336.55,338.44 336.61,337.71 336.68,336.97 336.75,336.22 336.82,335.47 336.89,334.71 336.96,333.95 337.03,333.18 337.10,332.40 337.18,331.62 337.25,330.84 337.33,330.05 337.41,329.25 337.48,328.45 337.56,327.64 337.64,326.83 337.72,326.01 337.80,325.18 337.89,324.35 337.97,323.52 338.05,322.68 338.14,321.84 338.22,320.99 338.31,320.14 338.40,319.28 338.49,318.41 338.58,317.55 338.67,316.67 338.76,315.79 338.85,314.91 338.95,314.03 339.04,313.14 339.14,312.24 339.24,311.34 339.33,310.44 339.43,309.53 339.53,308.62 339.63,307.70 339.74,306.78 339.84,305.85 339.92,305.16 339.99,304.46 340.07,303.76 340.15,303.06 340.23,302.35 340.31,301.65 340.40,300.94 340.48,300.23 340.56,299.52 340.64,298.80 340.73,298.09 340.81,297.37 340.90,296.65 340.98,295.93 341.07,295.20 341.15,294.48 341.24,293.75 341.33,293.02 341.42,292.29 341.51,291.56 341.60,290.82 341.69,290.09 341.78,289.35 341.87,288.61 341.96,287.87 342.05,287.13 342.15,286.38 342.24,285.64 342.34,284.89 342.43,284.14 342.53,283.40 342.62,282.64 342.72,281.89 342.82,281.14 342.92,280.39 343.02,279.63 343.11,278.87 343.21,278.11 343.32,277.36 343.42,276.60 343.52,275.83 343.62,275.07 343.72,274.31 343.83,273.54 343.93,272.78 344.04,272.01 344.14,271.24 344.25,270.48 344.36,269.71 344.47,268.94 344.57,268.16 344.68,267.39 344.79,266.62 344.90,265.85 345.01,265.07 345.13,264.30 345.24,263.52 345.35,262.75 345.46,261.97 345.58,261.19 345.69,260.42 345.81,259.64 345.92,258.86 346.04,258.08 346.16,257.30 346.28,256.52 346.40,255.74 346.52,254.96 346.64,254.18 346.76,253.40 346.88,252.62 347.00,251.84 347.12,251.05 347.25,250.27 347.37,249.49 347.49,248.71 347.62,247.92 347.75,247.14 347.87,246.36 348.00,245.58 348.13,244.79 348.26,244.01 348.39,243.23 348.52,242.44 348.65,241.66 348.78,240.88 348.91,240.10 349.05,239.32 349.18,238.53 349.31,237.75 349.45,236.97 349.58,236.19 349.72,235.41 349.86,234.63 350.00,233.85 350.13,233.07 350.27,232.29 350.41,231.51 350.55,230.73 350.69,229.95 350.84,229.17 350.98,228.40 351.12,227.62 351.27,226.85 351.41,226.07 351.56,225.29 351.70,224.52 351.85,223.75 352.00,222.97 352.15,222.20 352.30,221.43 352.44,220.66 352.60,219.89 352.75,219.12 352.90,218.35 353.05,217.58 353.20,216.82 353.36,216.05 353.51,215.29 353.67,214.52 353.83,213.76 353.98,213.00 354.14,212.24 354.30,211.48 354.46,210.72 354.62,209.96 354.78,209.20 354.94,208.45 355.10,207.69 355.26,206.94 355.43,206.19 355.59,205.43 355.76,204.68 355.92,203.93 356.09,203.19 356.26,202.44 356.43,201.69 356.59,200.95 356.76,200.21 356.93,199.47 357.10,198.73 357.28,197.99 357.45,197.25 357.62,196.51 357.80,195.78 357.97,195.04 358.15,194.31 358.32,193.58 358.50,192.85 358.68,192.13 358.86,191.40 359.04,190.67 359.22,189.95 359.40,189.23 359.58,188.51 359.76,187.79 359.94,187.07 360.13,186.36 360.31,185.65 360.50,184.93 360.68,184.22 360.87,183.51 361.06,182.81 361.25,182.10 361.44,181.40 361.63,180.70 361.82,179.99 362.01,179.30 362.20,178.60 362.39,177.90 362.59,177.21 362.78,176.52 362.98,175.83 363.17,175.14 363.37,174.45 363.57,173.77 363.77,173.09 363.97,172.41 364.17,171.73 364.37,171.05 364.57,170.38 364.77,169.70 364.97,169.03 365.25,168.14 365.52,167.25 365.80,166.36 366.07,165.48 366.35,164.60 366.63,163.73 366.91,162.86 367.19,161.99 367.48,161.13 367.76,160.27 368.05,159.41" fill="none" stroke="#b8860b" stroke-width="2.0" stroke-dasharray="6 5 6 5 6 21.3" stroke-linejoin="round"/>
<polyline points="368.05,159.41 368.34,158.55 368.63,157.71 368.92,156.86 369.21,156.02 369.50,155.18 369.80,154.34 370.09,153.51 370.39,152.68 370.69,151.86 370.99,151.04 371.30,150.22 371.60,149.41 371.91,148.60 372.21,147.80 372.52,146.99 372.83,146.20 373.14,145.40 373.45,144.61 373.77,143.83 374.08,143.05 374.40,142.27 374.72,141.49 375.04,140.72 375.36,139.96 375.68,139.19 376.01,138.44 376.34,137.68 376.66,136.93 376.99,136.18 377.32,135.44 377.66,134.70 377.99,133.97 378.32,133.23 378.66,132.51 379.00,131.78 379.34,131.06 379.68,130.35 380.02,129.64 380.37,128.93 380.71,128.23 381.06,127.53 381.41,126.83 381.76,126.14 382.11,125.45 382.46,124.77 382.82,124.09 383.18,123.41 383.53,122.74 383.89,122.07 384.25,121.41 384.62,120.75 384.98,120.09 385.35,119.44 385.72,118.79 386.08,118.14 386.45,117.50 386.83,116.87 387.20,116.23 387.58,115.60 387.95,114.98 388.33,114.36 388.71,113.74 389.09,113.13 389.47,112.52 389.86,111.91 390.25,111.31 390.63,110.71 391.02,110.12 391.41,109.53 391.81,108.94 392.20,108.36 392.60,107.78 393.09,107.06 393.59,106.35 394.09,105.64 394.60,104.94 395.11,104.24 395.62,103.55 396.13,102.87 396.64,102.19 397.16,101.52 397.68,100.85 398.20,100.19 398.73,99.53 399.25,98.88 399.78,98.24 400.32,97.60 400.85,96.97 401.39,96.34 401.93,95.72 402.47,95.10 403.02,94.49 403.56,93.89 404.11,93.29 404.67,92.69 405.22,92.10 405.78,91.52 406.34,90.94 406.90,90.37 407.47,89.80 408.04,89.23 408.61,88.68 409.18,88.12 409.76,87.58 410.34,87.03 410.92,86.50 411.51,85.96 412.09,85.44 412.68,84.91 413.27,84.39 413.87,83.88 414.47,83.37 415.07,82.87 415.67,82.37 416.28,81.88 416.88,81.39 417.49,80.91 418.11,80.43 418.72,79.95 419.34,79.48 419.96,79.01 420.59,78.55 421.22,78.10 421.85,77.64 422.48,77.20 423.11,76.75 423.75,76.31 424.39,75.88 425.03,75.45 425.68,75.02 426.33,74.60 426.98,74.18 427.64,73.77 428.29,73.36 428.95,72.96 429.61,72.56 430.28,72.16 430.95,71.77 431.62,71.38 432.29,70.99 432.97,70.61 433.65,70.23 434.33,69.86 435.01,69.49 435.70,69.13 436.39,68.76 437.08,68.41 437.78,68.05 438.48,67.70 439.18,67.35 439.88,67.01 440.59,66.67 441.30,66.33 442.01,66.00 442.73,65.67 443.45,65.34 444.17,65.02 444.89,64.70 445.62,64.39 446.35,64.08 447.08,63.77 447.81,63.46 448.55,63.16 449.29,62.86 450.04,62.56 450.78,62.27 451.53,61.98 452.29,61.69 453.04,61.41 453.80,61.13 454.56,60.85 455.32,60.58 456.09,60.31 456.86,60.04 457.63,59.77 458.41,59.51 459.19,59.25 459.97,58.99 460.75,58.74 461.54,58.48 462.33,58.24 463.12,57.99 463.92,57.75 464.72,57.51 465.52,57.27 466.32,57.03 467.13,56.80 467.94,56.57 468.75,56.34 469.57,56.12 470.39,55.89 471.21,55.67 472.04,55.45 472.87,55.24 473.70,55.03 474.53,54.81 475.37,54.61 476.21,54.40 477.05,54.20 477.90,53.99 478.75,53.80 479.60,53.60 480.28,53.44 480.97,53.29 481.66,53.13 482.34,52.98 483.04,52.83 483.73,52.68 484.42,52.53 485.12,52.39 485.82,52.24 486.52,52.10 487.23,51.96 487.93,51.82 488.64,51.68 489.35,51.54 490.06,51.40 490.77,51.26 491.48,51.13 492.20,50.99 492.92,50.86 493.64,50.73 494.36,50.60 495.09,50.47 495.81,50.34 496.54,50.22 497.27,50.09 498.00,49.97 498.74,49.84 499.47,49.72 500.21,49.60 500.95,49.48 501.69,49.36 502.44,49.24 503.18,49.13 503.93,49.01 504.68,48.90 505.43,48.78 506.19,48.67 506.94,48.56 507.70,48.45 508.46,48.34 509.22,48.23 509.99,48.12 510.75,48.02 511.52,47.91 512.29,47.81 513.06,47.70 513.84,47.60 514.61,47.50 515.39,47.40 516.17,47.30 516.95,47.20 517.73,47.10 518.52,47.00 519.31,46.91 520.10,46.81 520.89,46.72 521.68,46.62 522.48,46.53 523.28,46.44 524.08,46.35 524.88,46.26 525.68,46.17 526.49,46.08 527.30,45.99 528.11,45.90 528.92,45.82 529.73,45.73 530.55,45.65 531.37,45.57 532.19,45.48 533.01,45.40 533.83,45.32 534.66,45.24 535.49,45.16 536.32,45.08 537.15,45.00 537.99,44.92 538.82,44.85 539.66,44.77 540.50,44.69 541.34,44.62 542.19,44.54 543.04,44.47 543.88,44.40 544.74,44.33 545.59,44.25 546.44,44.18 547.30,44.11 548.16,44.04 549.02,43.97 549.88,43.91 550.75,43.84 551.62,43.77 552.49,43.71 553.36,43.64 554.23,43.57 555.11,43.51 555.98,43.45 556.86,43.38 557.75,43.32 558.63,43.26 559.52,43.20 560.40,43.13 561.30,43.07 562.19,43.01 563.08,42.95 563.98,42.90 564.88,42.84 565.78,42.78 566.68,42.72 567.59,42.67 568.49,42.61 569.40,42.55 570.31,42.50 571.23,42.44 572.14,42.39 573.06,42.34 573.98,42.28 574.90,42.23 575.83,42.18 576.75,42.13 577.68,42.08 578.61,42.03 579.31,41.99 580.01,41.95 580.71,41.91 581.42,41.88 582.12,41.84 582.82,41.80 583.53,41.77 584.24,41.73 584.95,41.70 585.66,41.66 586.37,41.62 587.08,41.59 587.79,41.56 588.51,41.52 589.22,41.49 589.94,41.45 590.66,41.42 591.38,41.39 592.10,41.35 592.82,41.32 593.55,41.29 594.27,41.25 595.00,41.22 595.72,41.19 596.45,41.16 597.18,41.13 597.91,41.09 598.64,41.06 599.38,41.03 600.11,41.00 600.84,40.97 601.58,40.94 602.32,40.91 603.06,40.88 603.80,40.85 604.54,40.82 605.28,40.79 606.03,40.76 606.77,40.73 607.52,40.70 608.27,40.68 609.01,40.65 609.76,40.62 610.52,40.59 611.27,40.56 612.02,40.54 612.78,40.51 613.53,40.48 614.29,40.45 615.05,40.43 615.81,40.40 616.57,40.37 617.33,40.35 618.09,40.32 618.86,40.30 619.63,40.27 620.39,40.25 621.16,40.22 621.93,40.19 622.70,40.17 623.47,40.15 624.25,40.12 625.02,40.10 625.80,40.07 626.57,40.05 627.35,40.02 628.13,40.00 628.91,39.98 629.69,39.95 630.48,39.93 631.26,39.91 632.05,39.88 632.84,39.86 633.62,39.84 634.41,39.81 635.20,39.79 636.00,39.77 636.79,39.75 637.58,39.73 638.38,39.70 639.18,39.68 639.97,39.66 640.77,39.64 641.57,39.62 642.38,39.60 643.18,39.58 643.98,39.56 644.79,39.54 645.60,39.52 646.40,39.49 647.21,39.47 648.03,39.45 648.84,39.43 649.65,39.41 650.46,39.40 651.28,39.38 652.10,39.36 652.92,39.34 653.74,39.32 654.56,39.30 655.38,39.28 656.20,39.26 657.03,39.24 657.85,39.22 658.68,39.21 659.51,39.19 660.34,39.17 661.17,39.15 662.00,39.13 662.83,39.12 663.67,39.10 664.50,39.08 665.34,39.06 666.18,39.05 667.02,39.03 667.86,39.01 668.70,39.00 669.55,38.98 670.39,38.96 671.24,38.95 672.08,38.93 672.93,38.91 673.50,38.90" fill="none" stroke="#b8860b" stroke-width="2.0" stroke-dasharray="5.3 4.3" stroke-linejoin="round"/>
<rect x="471.3" y="105.0" width="168.3" height="160.1" fill="#fff" stroke="#000" stroke-width="1"/>
<line x1="550.9" y1="120.80" x2="623.6" y2="120.80" stroke="#0000ff" stroke-width="2"/>
<text x="491.0" y="126.60" font-family="Liberation Serif" font-size="25.5">n</text>
<text x="505.0" y="129.80" font-family="Liberation Serif" font-size="25.5" transform="translate(505.0 0) scale(1.3 1) translate(-505.0 0)">=</text>
<text x="523.3" y="126.60" font-family="Liberation Serif" font-size="25.5">4</text>
<line x1="550.9" y1="152.80" x2="623.6" y2="152.80" stroke="#6495ed" stroke-width="2" stroke-dasharray="7.9 10.4"/>
<text x="491.0" y="158.80" font-family="Liberation Serif" font-size="25.5">n</text>
<text x="505.0" y="162.00" font-family="Liberation Serif" font-size="25.5" transform="translate(505.0 0) scale(1.3 1) translate(-505.0 0)">=</text>
<text x="523.3" y="158.80" font-family="Liberation Serif" font-size="25.5">5</text>
<line x1="550.9" y1="184.80" x2="623.6" y2="184.80" stroke="#008b8b" stroke-width="2" stroke-dasharray="4.4 4.7"/>
<text x="491.0" y="191.00" font-family="Liberation Serif" font-size="25.5">n</text>
<text x="505.0" y="194.20" font-family="Liberation Serif" font-size="25.5" transform="translate(505.0 0) scale(1.3 1) translate(-505.0 0)">=</text>
<text x="523.3" y="191.00" font-family="Liberation Serif" font-size="25.5">6</text>
<line x1="550.9" y1="216.80" x2="623.6" y2="216.80" stroke="#d2691e" stroke-width="2" stroke-dasharray="22.3 7.3 3.9 7.2"/>
<text x="491.0" y="223.20" font-family="Liberation Serif" font-size="25.5">n</text>
<text x="505.0" y="226.40" font-family="Liberation Serif" font-size="25.5" transform="translate(505.0 0) scale(1.3 1) translate(-505.0 0)">=</text>
<text x="523.3" y="223.20" font-family="Liberation Serif" font-size="25.5">7</text>
<line x1="550.9" y1="248.80" x2="623.6" y2="248.80" stroke="#b8860b" stroke-width="2" stroke-dasharray="6.2 5.0 6.0 4.7 5.9 21.5"/>
<text x="491.0" y="255.40" font-family="Liberation Serif" font-size="25.5">n</text>
<text x="505.0" y="258.60" font-family="Liberation Serif" font-size="25.5" transform="translate(505.0 0) scale(1.3 1) translate(-505.0 0)">=</text>
<text x="523.3" y="255.40" font-family="Liberation Serif" font-size="25.5">8</text>
<polyline points="105.40,552.90 139.29,552.90 173.18,552.90 207.07,552.90 240.96,553.00 274.85,553.58 308.74,554.40 342.63,555.81 376.52,558.71 410.41,562.61 444.30,568.80 478.19,578.89 512.08,593.94 545.97,616.99 579.86,652.76 613.75,708.99 647.64,799.31 668.30,894.90" fill="none" stroke="#0000ff" stroke-width="2" stroke-linejoin="round"/>
<circle cx="105.40" cy="552.90" r="7.6" fill="#0000ff"/>
<circle cx="139.29" cy="552.90" r="7.6" fill="#0000ff"/>
<circle cx="173.18" cy="552.90" r="7.6" fill="#0000ff"/>
<circle cx="207.07" cy="552.90" r="7.6" fill="#0000ff"/>
<circle cx="240.96" cy="553.00" r="7.6" fill="#0000ff"/>
<circle cx="274.85" cy="553.58" r="7.6" fill="#0000ff"/>
<circle cx="308.74" cy="554.40" r="7.6" fill="#0000ff"/>
<circle cx="342.63" cy="555.81" r="7.6" fill="#0000ff"/>
<circle cx="376.52" cy="558.71" r="7.6" fill="#0000ff"/>
<circle cx="410.41" cy="562.61" r="7.6" fill="#0000ff"/>
<circle cx="444.30" cy="568.80" r="7.6" fill="#0000ff"/>
<circle cx="478.19" cy="578.89" r="7.6" fill="#0000ff"/>
<circle cx="512.08" cy="593.94" r="7.6" fill="#0000ff"/>
<circle cx="545.97" cy="616.99" r="7.6" fill="#0000ff"/>
<circle cx="579.86" cy="652.76" r="7.6" fill="#0000ff"/>
<circle cx="613.75" cy="708.99" r="7.6" fill="#0000ff"/>
<circle cx="647.64" cy="799.31" r="7.6" fill="#0000ff"/>
<path d="M219.10,378.40V370.90M219.10,2.00V9.50M332.70,378.40V370.90M332.70,2.00V9.50M446.30,378.40V370.90M446.30,2.00V9.50M559.90,378.40V370.90M559.90,2.00V9.50M673.50,378.40V370.90M673.50,2.00V9.50M105.50,310.00H113.00M684.40,310.00H676.90M105.50,241.60H113.00M684.40,241.60H676.90M105.50,173.20H113.00M684.40,173.20H676.90M105.50,104.80H113.00M684.40,104.80H676.90M105.50,36.40H113.00M684.40,36.40H676.90" stroke="#000" stroke-width="1.3" fill="none"/>
<rect x="105.5" y="2.0" width="578.90" height="376.40" fill="none" stroke="#000" stroke-width="1.6"/>
<text x="105.50" y="411.20" font-family="Liberation Serif" font-size="25.5" text-anchor="middle">0</text>
<text x="219.10" y="411.20" font-family="Liberation Serif" font-size="25.5" text-anchor="middle">1</text>
<text x="332.70" y="411.20" font-family="Liberation Serif" font-size="25.5" text-anchor="middle">2</text>
<text x="446.30" y="411.20" font-family="Liberation Serif" font-size="25.5" text-anchor="middle">3</text>
<text x="559.90" y="411.20" font-family="Liberation Serif" font-size="25.5" text-anchor="middle">4</text>
<text x="673.50" y="411.20" font-family="Liberation Serif" font-size="25.5" text-anchor="middle">5</text>
<text x="89.0" y="384.90" font-family="Liberation Serif" font-size="25.5" text-anchor="end">0</text>
<text x="89.0" y="316.50" font-family="Liberation Serif" font-size="25.5" text-anchor="end">0.2</text>
<text x="89.0" y="248.10" font-family="Liberation Serif" font-size="25.5" text-anchor="end">0.4</text>
<text x="89.0" y="179.70" font-family="Liberation Serif" font-size="25.5" text-anchor="end">0.6</text>
<text x="89.0" y="111.30" font-family="Liberation Serif" font-size="25.5" text-anchor="end">0.8</text>
<text x="89.0" y="42.90" font-family="Liberation Serif" font-size="25.5" text-anchor="end">1</text>
<path d="M173.18,894.90V887.40M173.18,518.70V526.20M240.96,894.90V887.40M240.96,518.70V526.20M308.74,894.90V887.40M308.74,518.70V526.20M376.52,894.90V887.40M376.52,518.70V526.20M444.30,894.90V887.40M444.30,518.70V526.20M512.08,894.90V887.40M512.08,518.70V526.20M579.86,894.90V887.40M579.86,518.70V526.20M647.64,894.90V887.40M647.64,518.70V526.20M105.40,826.50H112.90M684.40,826.50H676.90M105.40,758.10H112.90M684.40,758.10H676.90M105.40,689.70H112.90M684.40,689.70H676.90M105.40,621.30H112.90M684.40,621.30H676.90M105.40,552.90H112.90M684.40,552.90H676.90" stroke="#000" stroke-width="1.3" fill="none"/>
<rect x="105.4" y="518.7" width="579.00" height="376.20" fill="none" stroke="#000" stroke-width="1.6"/>
<text x="105.40" y="927.50" font-family="Liberation Serif" font-size="25.5" text-anchor="middle">4</text>
<text x="173.18" y="927.50" font-family="Liberation Serif" font-size="25.5" text-anchor="middle">6</text>
<text x="240.96" y="927.50" font-family="Liberation Serif" font-size="25.5" text-anchor="middle">8</text>
<text x="308.74" y="927.50" font-family="Liberation Serif" font-size="25.5" text-anchor="middle">10</text>
<text x="376.52" y="927.50" font-family="Liberation Serif" font-size="25.5" text-anchor="middle">12</text>
<text x="444.30" y="927.50" font-family="Liberation Serif" font-size="25.5" text-anchor="middle">14</text>
<text x="512.08" y="927.50" font-family="Liberation Serif" font-size="25.5" text-anchor="middle">16</text>
<text x="579.86" y="927.50" font-family="Liberation Serif" font-size="25.5" text-anchor="middle">18</text>
<text x="647.64" y="927.50" font-family="Liberation Serif" font-size="25.5" text-anchor="middle">20</text>
<text x="89.0" y="901.40" font-family="Liberation Serif" font-size="25.5" text-anchor="end">0</text>
<text x="89.0" y="833.00" font-family="Liberation Serif" font-size="25.5" text-anchor="end">0.2</text>
<text x="89.0" y="764.60" font-family="Liberation Serif" font-size="25.5" text-anchor="end">0.4</text>
<text x="89.0" y="696.20" font-family="Liberation Serif" font-size="25.5" text-anchor="end">0.6</text>
<text x="89.0" y="627.80" font-family="Liberation Serif" font-size="25.5" text-anchor="end">0.8</text>
<text x="89.0" y="559.40" font-family="Liberation Serif" font-size="25.5" text-anchor="end">1</text>
<g transform="translate(20.7 0.00) rotate(-90)" font-family="Liberation Serif" font-style="italic" font-size="28.5"><text x="-362.20" y="0" textLength="85.9" lengthAdjust="spacingAndGlyphs">Bound</text><text x="-266.30" y="0" textLength="31.6" lengthAdjust="spacingAndGlyphs">on</text><text x="-225.20" y="0" textLength="115.2" lengthAdjust="spacingAndGlyphs">greybody</text><text x="-100.70" y="0" textLength="81.8" lengthAdjust="spacingAndGlyphs">factor</text></g>
<g transform="translate(20.7 516.00) rotate(-90)" font-family="Liberation Serif" font-style="italic" font-size="28.5"><text x="-362.20" y="0" textLength="85.9" lengthAdjust="spacingAndGlyphs">Bound</text><text x="-266.30" y="0" textLength="31.6" lengthAdjust="spacingAndGlyphs">on</text><text x="-225.20" y="0" textLength="115.2" lengthAdjust="spacingAndGlyphs">greybody</text><text x="-100.70" y="0" textLength="81.8" lengthAdjust="spacingAndGlyphs">factor</text></g>
<text x="394.2" y="451.0" font-family="Liberation Serif" font-style="italic" font-size="28.5" text-anchor="middle">ω</text>
<text x="394.8" y="968.0" font-family="Liberation Serif" font-style="italic" font-size="29" text-anchor="middle" transform="translate(394.8 0) scale(1.2 1) translate(-394.8 0)">n</text>
<text x="373.9" y="486.7" font-family="Liberation Serif" font-weight="bold" font-size="27.5" textLength="34.6" lengthAdjust="spacingAndGlyphs">(a)</text>
<text x="373.7" y="1003.9" font-family="Liberation Serif" font-weight="bold" font-size="27.5" textLength="35.3" lengthAdjust="spacingAndGlyphs">(b)</text>
</svg>
</body></html>
